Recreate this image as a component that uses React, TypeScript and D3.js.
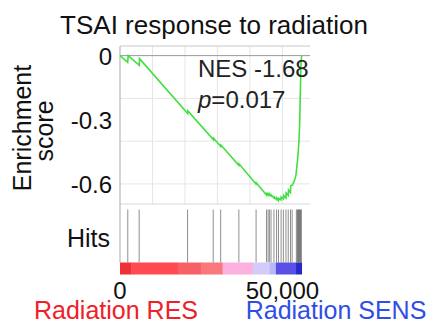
import React from 'react';
import * as d3 from 'd3';

const W = 434;
const H = 329;
const FONT = '"Liberation Sans", Arial, Helvetica, sans-serif';

// running enrichment score
const esRank = [
  0, 2370, 2520, 5940, 6000, 20850, 20910, 28730, 28790, 31010, 31070, 36580, 36640,
  41870, 41940, 45110, 45170, 45570, 45630, 46030, 46090, 46490, 46560, 47420, 47480,
  48190, 48250, 48800, 48860, 49570, 49630, 50340, 50400, 51110, 51170, 51820, 51880,
  52500, 52560, 53110, 53580, 53880, 54190, 54410, 54650, 54900, 55110, 55300, 55420,
  55580, 55730, 55950,
];
const esValue = [
  0, -0.031, 0, -0.045, -0.014, -0.271, -0.259, -0.393, -0.386, -0.425, -0.418, -0.513, -0.506,
  -0.6, -0.595, -0.652, -0.645, -0.652, -0.645, -0.652, -0.647, -0.656, -0.652, -0.666, -0.661,
  -0.673, -0.666, -0.678, -0.668, -0.675, -0.661, -0.671, -0.654, -0.666, -0.642, -0.654, -0.628,
  -0.64, -0.609, -0.605, -0.591, -0.576, -0.558, -0.525, -0.492, -0.445, -0.398, -0.327, -0.242,
  -0.139, -0.031, 0,
];

// gene set members along the ranked list
const hitRanks = [
  2400, 5900, 20800, 28700, 31000, 36600, 41900, 45100, 45600, 46000, 46500, 47400, 48200,
  48800, 49600, 50300, 51100, 51800, 52500, 53000, 54300, 54600, 54800, 55000, 55200, 55400,
  55600, 55850,
];

// ranked list metric colour bar
const barStops = [0, 3400, 17800, 24900, 31600, 40900, 46000, 48000, 54200, 55950];
const barColors = ['#f03038', '#ff4a52', '#f86068', '#f8787c', '#fcb0e0', '#d4ccf8', '#b8b8f4', '#5a50e8', '#2828c8'];

const yTicks = [0, -0.3, -0.6];
const yGrid = [-0.2, -0.4, -0.6];
const xGrid = [10000, 20000, 30000, 40000, 50000];
const xTicks = [0, 50000];

export default function App() {
  const x = d3.scaleLinear().domain([0, 58500]).range([120, 310]);
  const y = d3.scaleLinear().domain([-0.694, 0.045]).range([204, 46]);

  const hitTop = 209.5;
  const hitBottom = 262.5;
  const barBottom = 274.5;

  const pts: [number, number][] = esRank.map((r, i) => [r, esValue[i]]);
  const line = d3.line<[number, number]>().x(d => x(d[0])).y(d => y(d[1]));

  return (
    <svg width={W} height={H} style={{ position: 'absolute', left: 0, top: 0, background: '#fff' }} fontFamily={FONT}>
      <text x={214} y={34} fontSize={26} textAnchor="middle" fill="#111">TSAI response to radiation</text>

      {/* grid */}
      {xGrid.map(v => (
        <line key={'gx' + v} x1={x(v)} x2={x(v)} y1={y.range()[1]} y2={y.range()[0]} stroke="#e6e6e6" strokeWidth={1} />
      ))}
      {yGrid.map(v => (
        <line key={'gy' + v} x1={120} x2={310} y1={y(v)} y2={y(v)} stroke="#e6e6e6" strokeWidth={1} />
      ))}
      <line x1={120} x2={310} y1={46} y2={46} stroke="#c8c8c8" />
      <line x1={120} x2={310} y1={y(0)} y2={y(0)} stroke="#999" />
      <line x1={120} x2={310} y1={204} y2={204} stroke="#d8d8d8" />
      <line x1={120} x2={120} y1={46} y2={hitBottom} stroke="#aaa" />

      <path d={line(pts) || ''} fill="none" stroke="#3fe03f" strokeWidth={1.6} />

      {/* hits */}
      {hitRanks.map((r, i) => (
        <line key={'h' + i} x1={x(r)} x2={x(r)} y1={hitTop} y2={hitBottom} stroke="#333" strokeOpacity={0.55} strokeWidth={1} />
      ))}

      {/* colour bar */}
      {barColors.map((c, i) => (
        <rect key={'b' + i} x={x(barStops[i])} y={hitBottom} width={x(barStops[i + 1]) - x(barStops[i]) + 0.3}
          height={barBottom - hitBottom} fill={c} />
      ))}

      {/* y ticks */}
      {yTicks.map(v => (
        <text key={'yt' + v} x={112} y={y(v) + 9.5} fontSize={24} textAnchor="end" fill="#111">{String(v)}</text>
      ))}
      <text transform="translate(31,128) rotate(-90)" fontSize={25} textAnchor="middle" fill="#111">Enrichment</text>
      <text transform="translate(53,131) rotate(-90)" fontSize={25} textAnchor="middle" fill="#111">score</text>
      <text x={110} y={247} fontSize={25} textAnchor="end" fill="#111">Hits</text>

      {/* x ticks */}
      {xTicks.map(v => (
        <text key={'xt' + v} x={x(v)} y={299} fontSize={24} textAnchor="middle" fill="#111">{d3.format(',')(v)}</text>
      ))}

      <text x={198} y={77} fontSize={24} fill="#222">NES -1.68</text>
      <text x={198} y={108} fontSize={24} fill="#222"><tspan fontStyle="italic">p</tspan>=0.017</text>

      <text x={116} y={319} fontSize={25} textAnchor="middle" fill="#ee2028">Radiation RES</text>
      <text x={336} y={319} fontSize={25} textAnchor="middle" fill="#2f4ee6">Radiation SENS</text>
    </svg>
  );
}
